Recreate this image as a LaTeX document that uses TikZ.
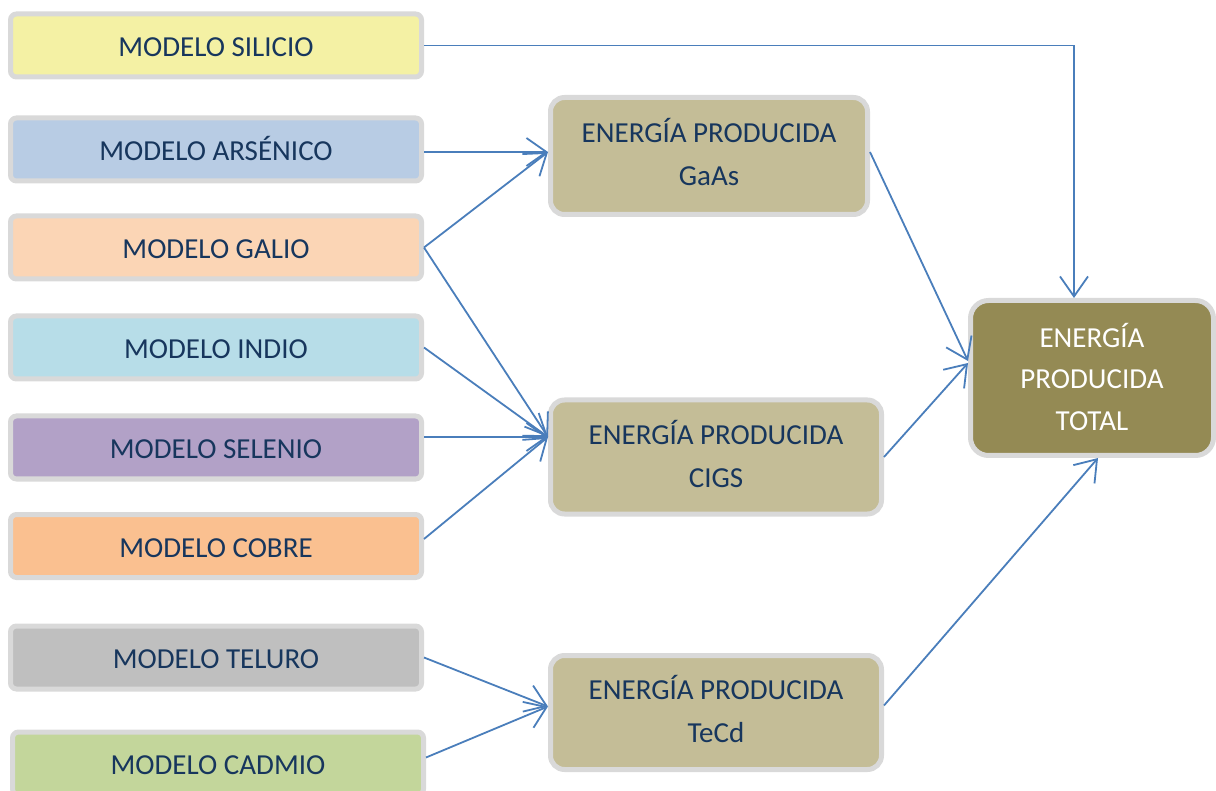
\documentclass[tikz,border=0pt]{standalone}
\usepackage{fontspec}
\setmainfont{Carlito}
\usepackage{xcolor}
\usetikzlibrary{positioning, arrows.meta, calc}

\definecolor{borde}{HTML}{D9D9D9}
\definecolor{texto}{HTML}{17365D}
\definecolor{flechaazul}{HTML}{4A7EBB}
\definecolor{silicio}{HTML}{F4F1A4}
\definecolor{arsenico}{HTML}{B8CCE4}
\definecolor{galio}{HTML}{FBD5B5}
\definecolor{indio}{HTML}{B7DDE8}
\definecolor{selenio}{HTML}{B2A1C7}
\definecolor{cobre}{HTML}{FAC090}
\definecolor{teluro}{HTML}{BFBFBF}
\definecolor{cadmio}{HTML}{C3D69B}
\definecolor{energia}{HTML}{C4BD97}
\definecolor{total}{HTML}{948A54}

\tikzset{
    modelo/.style={draw=borde, line width=5pt, rounded corners=6pt, text=texto,
        minimum width=411pt, minimum height=63pt, inner sep=0pt,
        text height=22pt, text depth=0pt, font=\fontsize{29}{42}\selectfont},
    energiabox/.style={draw=borde, line width=5pt, rounded corners=14pt, fill=energia,
        text=texto, minimum height=114pt, inner sep=0pt, align=center,
        text height=60pt, text depth=0pt, font=\fontsize{29}{43}\selectfont},
    totalbox/.style={draw=borde, line width=5pt, rounded corners=18pt, fill=total,
        text=white, minimum width=243pt, minimum height=155pt, inner sep=0pt,
        align=center, text height=105pt, text depth=0pt,
        font=\fontsize{29}{41.5}\selectfont},
    flecha/.style={->, draw=flechaazul, line width=1.8pt}
}

\begin{document}
\begin{tikzpicture}[x=1pt, y=-1pt, >={Straight Barb[length=20pt, width=28pt]}]
    \useasboundingbox (0,0) rectangle (1216,791);

    % --- Modelos ---
    \node[modelo, fill=silicio]  (sil) at (216,45.5)  {MODELO SILICIO};
    \node[modelo, fill=arsenico] (ars) at (216,149.5) {MODELO ARSÉNICO};
    \node[modelo, fill=galio]    (gal) at (216,247.5) {MODELO GALIO};
    \node[modelo, fill=indio]    (ind) at (216,347.5) {MODELO INDIO};
    \node[modelo, fill=selenio]  (sel) at (216,447.5) {MODELO SELENIO};
    \node[modelo, fill=cobre]    (cob) at (216,546)   {MODELO COBRE};
    \node[modelo, fill=teluro]   (tel) at (216,657.5) {MODELO TELURO};
    \node[modelo, fill=cadmio]   (cad) at (218,763.5) {MODELO CADMIO};

    % --- Energia producida ---
    \node[energiabox, minimum width=317pt, minimum height=117pt] (gaas) at (709,156)
        {ENERGÍA PRODUCIDA\\GaAs};
    \node[energiabox, minimum width=331pt] (cigs) at (716,457)
        {ENERGÍA PRODUCIDA\\CIGS};
    \node[energiabox, minimum width=331pt] (tecd) at (716,712.5)
        {ENERGÍA PRODUCIDA\\TeCd};
    \node[totalbox] (tot) at (1092,378) {ENERGÍA\\PRODUCIDA\\TOTAL};

    % puntos de llegada
    \coordinate (gaasin) at ([yshift=4pt]gaas.west);
    \coordinate (cigsin) at ([yshift=20pt]cigs.west);
    \coordinate (tecdin) at ([yshift=6pt]tecd.west);
    \coordinate (totin)  at ([yshift=17pt]tot.west);
    \coordinate (totsi)  at ([xshift=-18pt]tot.north);
    \coordinate (totte)  at ([xshift=6pt]tot.south);

    % --- Conexiones ---
    \draw[flecha] (sil.east) -| (totsi);
    \draw[flecha] (gaasin -| ars.east) -- (gaasin);
    \draw[flecha] (gal.east) -- (gaasin);
    \draw[flecha] (gal.east) -- (cigsin);
    \draw[flecha] (ind.east) -- (cigsin);
    \draw[flecha] (cigsin -| sel.east) -- (cigsin);
    \draw[flecha] ([yshift=7pt]cob.east) -- (cigsin);
    \draw[flecha] (tel.east) -- (tecdin);
    \draw[flecha] ([yshift=6pt]cad.east) -- (tecdin);

    \draw[flecha] ([yshift=4pt]gaas.east) -- (totin);
    \draw[flecha] (cigs.east) -- ([yshift=15pt]tot.west);
    \draw[flecha] ([yshift=7pt]tecd.east) -- (totte);
\end{tikzpicture}
\end{document}
